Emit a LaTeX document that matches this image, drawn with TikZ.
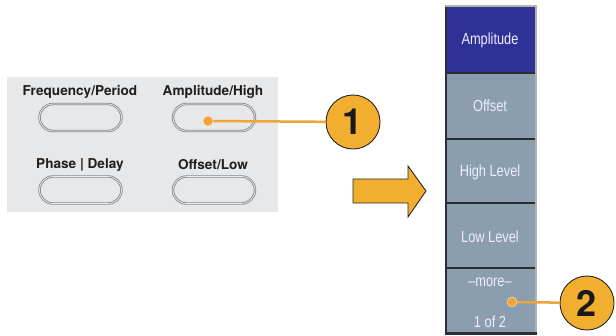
\documentclass[tikz,border=0pt]{standalone}
\usepackage{fontspec}
\newfontfamily\labelfont{TeX Gyre Heros}
\newfontfamily\menufont{Liberation Sans}[FakeStretch=0.8]
\definecolor{panelgray}{HTML}{E7E8EA}
\definecolor{btnline}{HTML}{858990}
\definecolor{orng}{HTML}{F2AE2E}
\definecolor{orline}{HTML}{EDA53A}
\definecolor{selblue}{HTML}{2E3296}
\definecolor{softblue}{HTML}{8B9EB0}
\definecolor{sepline}{HTML}{2A2C36}
\tikzset{
  panellabel/.style={font=\labelfont\bfseries\fontsize{13.6}{15}\selectfont, text=black!88, inner sep=0pt, anchor=center},
  btn/.style={draw=btnline, line width=2.4pt, fill=panelgray, rounded corners=13.5pt, minimum width=82pt, minimum height=27pt, inner sep=0pt,
     postaction={draw=white!85!btnline, line width=0.7pt, rounded corners=13.5pt}},
  menubox/.style={fill=#1, minimum width=90pt, inner sep=0pt, anchor=north west},
  menutext/.style={font=\menufont\fontsize{16}{18}\selectfont, text=white!93!blue, inner sep=0pt},
  calldot/.style={circle, fill=orline, draw=white!70!orline, line width=0.5pt, minimum size=10pt, inner sep=0pt},
  callcirc/.style={circle, fill=orng, draw=black!85, line width=0.9pt, minimum size=54pt, inner sep=0pt,
     font=\labelfont\bfseries\fontsize{36}{36}\selectfont, text=black!90},
  callline/.style={draw=orline, line width=2.5pt},
}
\begin{document}
\begin{tikzpicture}[x=1pt,y=-1pt]
\useasboundingbox (0,0) rectangle (616,335);
% front panel
\fill[panelgray] (7,77) rectangle (278,212);
\node[panellabel] (lfreq) at (80,92) {Frequency/Period};
\node[panellabel] (lamp) at (213,92) {Amplitude/High};
\node[panellabel] (lphase) at (80,165) {Phase | Delay};
\node[panellabel] (loff) at (213,165) {Offset/Low};
\node[btn] (bfreq) at (80.5,117.5) {};
\node[btn] (bamp) at (214,117.5) {};
\node[btn] (bphase) at (80.5,190) {};
\node[btn] (boff) at (214,190) {};
% big arrow
\filldraw[fill=orng, draw=black!85, line width=0.9pt, line join=miter]
  (353,179) -- (408,179) -- (408,166) -- (426,191) -- (408,217) -- (408,203) -- (353,203) -- cycle;
% menu
\fill[black!30] (445,5) rectangle (537,335);
\node[menubox=selblue, minimum height=66pt] (m1) at (445,7) {};
\node[menubox=softblue, minimum height=65pt] (m2) at (445,74) {};
\node[menubox=softblue, minimum height=63pt] (m3) at (445,140) {};
\node[menubox=softblue, minimum height=64pt] (m4) at (445,204) {};
\node[menubox=softblue, minimum height=64pt] (m5) at (445,269) {};
\foreach \yy in {73,139,203,268} \draw[sepline, line width=2pt] (445,\yy) -- (535,\yy);
\draw[sepline, line width=2.2pt] (446,7) -- (446,334);
\draw[sepline, line width=2.5pt] (445,333.7) -- (537,333.7);
\node[menutext] (t1) at (490,40) {Amplitude};
\node[menutext] (t2) at (490,106) {Offset};
\node[menutext] (t3) at (490,172) {High Level};
\node[menutext] (t4) at (490,237) {Low Level};
\node[menutext] (t5) at (490,282) {–more–};
\node[menutext] (t6) at (490,322) {1 of 2};
% callouts
\node[callcirc] (c1) at (353,122) {1};
\node[callcirc] (c2) at (587,303) {2};
\node[calldot] (d1) at (208,121) {};
\node[calldot] (d2) at (512,302) {};
\draw[callline] (d1) -- (c1);
\draw[callline] (d2) -- (c2);
\end{tikzpicture}
\end{document}
